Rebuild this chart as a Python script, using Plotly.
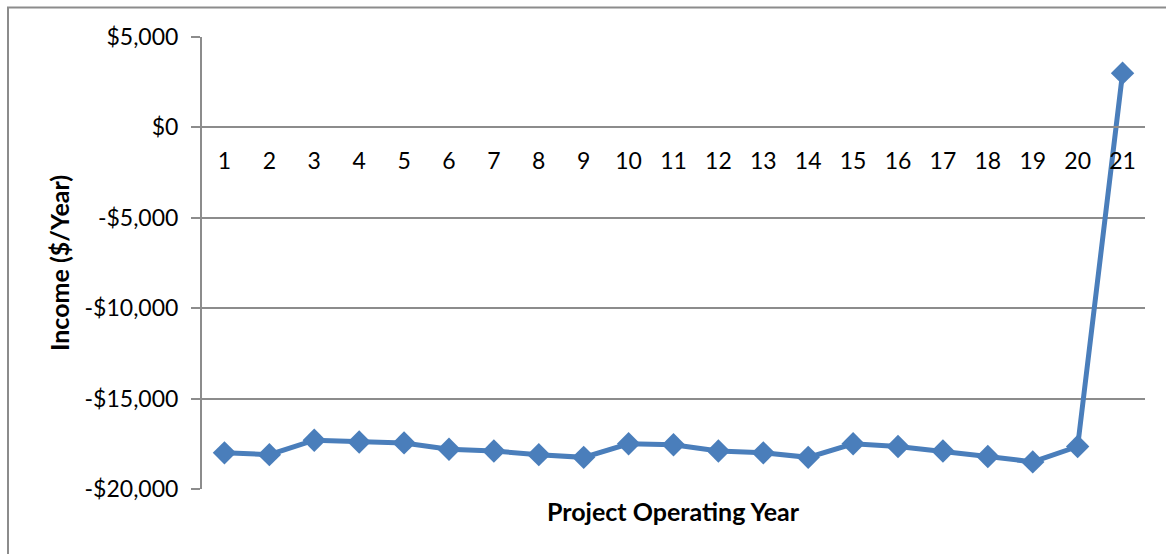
import plotly.graph_objects as go

# Project operating years and the annual income for each year
years = list(range(1, 22))
income = [-18000, -18100, -17300, -17400, -17450, -17800, -17900, -18100, -18250,
          -17500, -17550, -17900, -18000, -18250, -17500, -17650, -17900, -18200,
          -18500, -17650, 3000]

y_ticks = [5000, 0, -5000, -10000, -15000, -20000]
y_tick_text = ["$5,000", "$0", "-$5,000", "-$10,000", "-$15,000", "-$20,000"]

FONT = "Lato"
BLUE = "#4A7EBB"
GRID = "#8C8C8C"

fig = go.Figure()
fig.add_trace(go.Scatter(
    x=years, y=income, mode="lines+markers",
    line=dict(color=BLUE, width=5),
    marker=dict(symbol="diamond", size=18, color=BLUE),
    showlegend=False, cliponaxis=False,
))

# plot area in pixels: x 202..1145, y 36.5..489
L, R, T, B = 202, 1145, 36.5, 489
W, H = 1166, 554

fig.update_layout(
    width=W, height=H,
    margin=dict(l=L, r=W - R, t=T, b=H - B),
    paper_bgcolor="white", plot_bgcolor="white",
    font=dict(family=FONT, size=23, color="black"),
    xaxis=dict(
        range=[0.5, 21.5], tickmode="array", tickvals=years,
        ticktext=[str(v) for v in years],
        anchor="free", position=0.8,
        showline=True, linecolor=GRID, linewidth=2,
        showgrid=False, zeroline=False, ticks="",
        ticklabelstandoff=13,
        tickfont=dict(family=FONT, size=23),
    ),
    yaxis=dict(
        range=[-20000, 5000], tickmode="array", tickvals=y_ticks,
        ticktext=y_tick_text,
        showline=True, linecolor=GRID, linewidth=2,
        showgrid=True, gridcolor=GRID, gridwidth=2,
        zeroline=False,
        ticks="outside", ticklen=9, tickcolor=GRID, tickwidth=2,
        ticklabelstandoff=8,
        tickfont=dict(family=FONT, size=23),
    ),
    annotations=[
        dict(text="<b>Project Operating Year</b>", xref="paper", yref="paper",
             x=(673 - L) / (R - L), y=(B - 511) / (B - T),
             showarrow=False, xanchor="center", yanchor="middle",
             font=dict(family=FONT, size=25)),
        dict(text="<b>Income ($/Year)</b>", xref="paper", yref="paper",
             x=(59 - L) / (R - L), y=0.5, textangle=-90,
             showarrow=False, xanchor="center", yanchor="middle",
             font=dict(family=FONT, size=25)),
    ],
    shapes=[
        dict(type="rect", xref="paper", yref="paper",
             x0=(8 - L) / (R - L), x1=(1175 - L) / (R - L),
             y0=(B - 570) / (B - T), y1=(B - 7) / (B - T),
             line=dict(color=GRID, width=2), fillcolor="rgba(0,0,0,0)",
             layer="below"),
    ],
)

fig.write_html("out.html")
